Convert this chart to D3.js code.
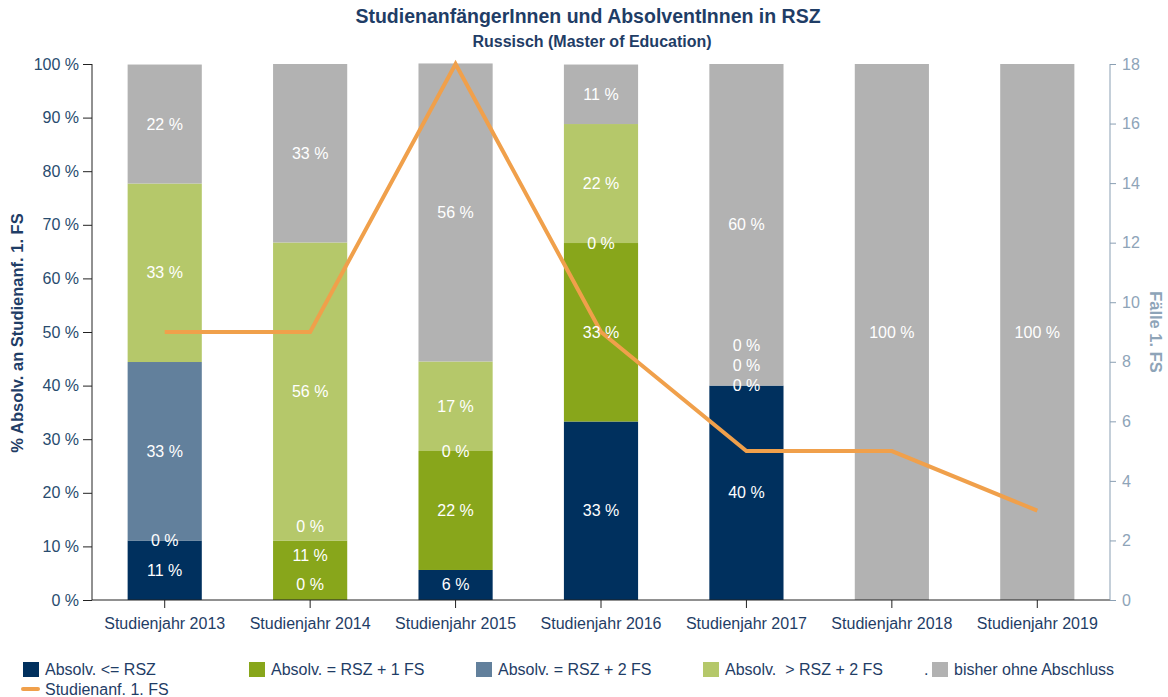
<!DOCTYPE html>
<html>
<head>
<meta charset="utf-8">
<script src="https://d3js.org/d3.v7.min.js"></script>
<style>
  body { margin: 0; background: #fff; }
  text { font-family: "Liberation Sans", Arial, sans-serif; }
  .tick text { font-size: 16px; }
  .lbl { fill: #fff; font-size: 16px; text-anchor: middle; }
  .legend text { font-size: 16px; fill: #1f3d66; white-space: pre; }
</style>
</head>
<body>
<svg width="1168" height="697"></svg>
<script>
const years = ['Studienjahr 2013', 'Studienjahr 2014', 'Studienjahr 2015', 'Studienjahr 2016',
               'Studienjahr 2017', 'Studienjahr 2018', 'Studienjahr 2019'];
// shares in % (labels are rounded)
const absolvRSZ     = [11.1, 0,    5.6,  33.3, 40,  null, null];
const absolvRSZ1    = [0,    11.1, 22.2, 33.3, 0,   null, null];
const absolvRSZ2    = [33.3, 0,    0,    0,    0,   null, null];
const absolvMehr    = [33.3, 55.6, 16.7, 22.2, 0,   null, null];
const ohneAbschluss = [22.2, 33.3, 55.6, 11.1, 60,  100,  100];
const studienanf    = [9, 9, 18, 9, 5, 5, 3];
const pctTicks = [0, 10, 20, 30, 40, 50, 60, 70, 80, 90, 100];
const caseTicks = [0, 2, 4, 6, 8, 10, 12, 14, 16, 18];

const series = [
  { name: 'Absolv. <= RSZ', values: absolvRSZ, color: '#00305e' },
  { name: 'Absolv. = RSZ + 1 FS', values: absolvRSZ1, color: '#88a61b' },
  { name: 'Absolv. = RSZ + 2 FS', values: absolvRSZ2, color: '#62809c' },
  { name: 'Absolv.  > RSZ + 2 FS', values: absolvMehr, color: '#b5c86a' },
  { name: 'bisher ohne Abschluss', values: ohneAbschluss, color: '#b2b2b2' }
];

const svg = d3.select('svg');
const plotL = 92, plotR = 1110, plotT = 64, plotB = 600;

const x = d3.scaleBand().domain(years).range([plotL, plotR])
  .paddingInner(0.49).paddingOuter(0.245);
const y = d3.scaleLinear().domain([0, 100]).range([plotB, plotT]);
const y2 = d3.scaleLinear().domain([0, 18]).range([plotB, plotT]);

// title
svg.append('text').attr('x', 588).attr('y', 23).attr('text-anchor', 'middle')
  .style('font-size', '19.5px').style('font-weight', 'bold').attr('fill', '#1f3d66')
  .text('StudienanfängerInnen und AbsolventInnen in RSZ');
svg.append('text').attr('x', 592).attr('y', 47).attr('text-anchor', 'middle')
  .style('font-size', '16px').style('font-weight', 'bold').attr('fill', '#1f3d66')
  .text('Russisch (Master of Education)');

// bars
const bars = svg.append('g');
const labels = [];
years.forEach((yr, i) => {
  let base = 0, prevY = null, pushed = false;
  series.forEach(s => {
    const v = s.values[i];
    if (v == null) return;
    bars.append('rect')
      .attr('x', x(yr)).attr('width', x.bandwidth())
      .attr('y', y(base + v)).attr('height', y(base) - y(base + v))
      .attr('fill', s.color);
    let ly = y(base + v / 2);
    if (ly > plotB - 16) { ly = plotB - 16; pushed = true; }
    // keep stacked labels from overlapping
    const gap = pushed ? 29 : 20;
    if (prevY != null && ly > prevY - gap) ly = prevY - gap;
    else if (prevY != null) pushed = false;
    prevY = ly;
    labels.push({ x: x(yr) + x.bandwidth() / 2, y: ly, t: Math.round(v) + ' %' });
    base += v;
  });
});

// axes
const yAxis = svg.append('g').attr('transform', `translate(${plotL},0)`)
  .call(d3.axisLeft(y).tickValues(pctTicks).tickFormat(d => d + ' %').tickSize(9).tickPadding(4));
yAxis.selectAll('path,line').attr('stroke', '#222');
yAxis.selectAll('text').attr('fill', '#284b6e');
yAxis.select('.domain').attr('d', `M0,${plotT}V${plotB}`);

const xAxis = svg.append('g').attr('transform', `translate(0,${plotB})`)
  .call(d3.axisBottom(x).tickSize(8).tickPadding(10));
xAxis.selectAll('path,line').attr('stroke', '#222');
xAxis.select('.domain').attr('d', `M${plotL},0H${plotR}`);
xAxis.selectAll('text').attr('fill', '#1f3d66');

const y2Axis = svg.append('g').attr('transform', `translate(${plotR},0)`)
  .call(d3.axisRight(y2).tickValues(caseTicks).tickSize(6).tickPadding(6));
y2Axis.selectAll('path,line').attr('stroke', '#8a9fb3');
y2Axis.selectAll('text').attr('fill', '#8ea4b8');
y2Axis.select('.domain').attr('d', `M0,${plotT}V${plotB}`);

svg.append('text').attr('transform', `translate(23,${333}) rotate(-90)`)
  .attr('text-anchor', 'middle').style('font-size', '16.5px').style('font-weight', 'bold')
  .attr('fill', '#1f3d66').text('% Absolv. an Studienanf. 1. FS');
svg.append('text').attr('transform', `translate(1150,${332}) rotate(90)`)
  .attr('text-anchor', 'middle').style('font-size', '16.5px').style('font-weight', 'bold')
  .attr('fill', '#8ea4b8').text('Fälle 1. FS');

// line
const line = d3.line().x((d, i) => x(years[i]) + x.bandwidth() / 2).y(d => y2(d));
svg.append('path').datum(studienanf)
  .attr('fill', 'none').attr('stroke', '#f0a04b').attr('stroke-width', 4)
  .attr('d', line);

// data labels
svg.append('g').selectAll('text').data(labels).join('text')
  .attr('class', 'lbl').attr('x', d => d.x).attr('y', d => d.y).attr('dy', '0.35em')
  .text(d => d.t);

// legend
const legX = [23, 249, 476, 703, 932];
const leg = svg.append('g').attr('class', 'legend');
series.forEach((s, i) => {
  leg.append('rect').attr('x', legX[i]).attr('y', 662).attr('width', 16).attr('height', 15)
    .attr('fill', s.color);
  leg.append('text').attr('x', legX[i] + 22).attr('y', 675).text(s.name);
});
leg.append('text').attr('x', 924).attr('y', 675).text('.');
leg.append('line').attr('x1', 23).attr('x2', 38).attr('y1', 689).attr('y2', 689)
  .attr('stroke', '#f0a04b').attr('stroke-width', 4).attr('stroke-linecap', 'round');
leg.append('text').attr('x', 45).attr('y', 695).text('Studienanf. 1. FS');
</script>
</body>
</html>
